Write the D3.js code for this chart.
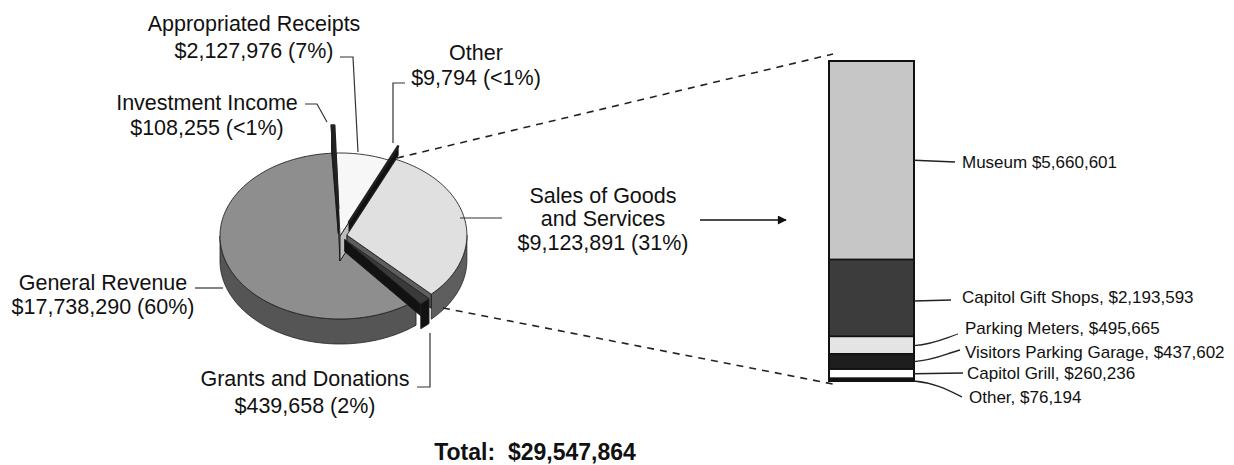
<!DOCTYPE html>
<html>
<head>
<meta charset="utf-8">
<script src="https://cdn.jsdelivr.net/npm/d3@7"></script>
<style>
  html, body { margin: 0; padding: 0; background: #ffffff; }
  svg { display: block; font-family: "Liberation Sans", Arial, sans-serif; }
</style>
</head>
<body>
<svg id="chart" width="1234" height="465"></svg>
<script>
// ---------- DATA ----------
const pieCategories = ["Investment Income", "Appropriated Receipts", "Other", "Sales of Goods and Services", "Grants and Donations", "General Revenue"];
const pieNameLines = [["Investment Income"], ["Appropriated Receipts"], ["Other"], ["Sales of Goods", "and Services"], ["Grants and Donations"], ["General Revenue"]];
const pieValues = [108255, 2127976, 9794, 9123891, 439658, 17738290];
const piePercents = ["<1%", "7%", "<1%", "31%", "2%", "60%"];

const barCategories = ["Museum", "Capitol Gift Shops", "Parking Meters", "Visitors Parking Garage", "Capitol Grill", "Other"];
const barValues = [5660601, 2193593, 495665, 437602, 260236, 76194];

const totalLabel = "Total:";
const totalValue = 29547864;

// ---------- LAYOUT / STYLE ----------
const svg = d3.select("#chart");
const fmt = d3.format("$,");

const cx = 340, cy = 236, R = 120, K = 83 / 120, DEPTH = 25;
const startDeg = -3.2;
const explode = [40, 0, 22, 7, 7, 0];
const faceDepth = [25, 25, 9, 14, 12, 25];
const topFill  = ["#1c1c1c", "#f7f7f7", "#1c1c1c", "#e0e0e0", "#3a3a3a", "#8e8e8e"];
const sideFill = ["#111111", "#bdbdbd", "#111111", "#5e5e5e", "#121212", "#555555"];
const drawOrder = [5, 1, 3, 4, 0, 2];

const pie = d3.pie().sort(null).value(d => d)
  .startAngle(startDeg * Math.PI / 180)
  .endAngle(startDeg * Math.PI / 180 + 2 * Math.PI);
const arcs = pie(pieValues);

const line = d3.line();

function rim(a, ox, oy, dz) {
  return [cx + ox + R * Math.sin(a), cy + oy - R * Math.cos(a) * K + (dz || 0)];
}
function samples(a0, a1) {
  const n = Math.max(2, Math.ceil((a1 - a0) / 0.02));
  return d3.range(n + 1).map(i => a0 + (a1 - a0) * i / n);
}

const gPie = svg.append("g");

drawOrder.forEach(i => {
  const d = arcs[i];
  const a0 = d.startAngle, a1 = d.endAngle, m = (a0 + a1) / 2;
  const e = explode[i];
  const ox = e * Math.sin(m), oy = -e * Math.cos(m) * K;
  const apex = [cx + ox, cy + oy];
  const g = gPie.append("g");

  // outer wall (front half only)
  [-2 * Math.PI, 0, 2 * Math.PI].forEach(s => {
    const lo = Math.max(a0, Math.PI / 2 + s), hi = Math.min(a1, 3 * Math.PI / 2 + s);
    if (hi > lo) {
      const angs = samples(lo, hi);
      const pts = angs.map(a => rim(a, ox, oy, 0))
        .concat(angs.slice().reverse().map(a => rim(a, ox, oy, DEPTH)));
      g.append("path").attr("d", line(pts) + "Z")
        .attr("fill", sideFill[i]).attr("stroke", "#222").attr("stroke-width", 0.8);
    }
  });

  // radial faces
  const faces = [];
  if (Math.sin(a0) < 0) faces.push(a0);
  if (Math.sin(a1) > 0) faces.push(a1);
  faces.forEach(a => {
    const r0 = rim(a, ox, oy, 0);
    const fd = faceDepth[i];
    const pts = [apex, r0, [r0[0], r0[1] + fd], [apex[0], apex[1] + fd]];
    g.append("path").attr("d", line(pts) + "Z")
      .attr("fill", sideFill[i]).attr("stroke", "#1a1a1a").attr("stroke-width", 1);
  });

  // top face
  const topPts = [apex].concat(samples(a0, a1).map(a => rim(a, ox, oy, 0)));
  g.append("path").attr("d", line(topPts) + "Z")
    .attr("fill", topFill[i]).attr("stroke", "#222").attr("stroke-width", (a1 - a0) < 0.05 ? 2.4 : 0.9)
    .attr("stroke-linejoin", "round");
});

// ---------- PIE LABELS ----------
const labelPos = [
  { x: 207, y: [102, 127] },
  { x: 254, y: [23, 50] },
  { x: 476, y: [52, 77] },
  { x: 603, y: [195, 218, 242] },
  { x: 305, y: [378, 405] },
  { x: 103, y: [282, 306] }
];
const leaders = [
  [[305, 104], [317, 104], [327, 122]],
  [[340, 57], [353, 57], [358, 152]],
  [[405, 83], [393, 83], [393, 143]],
  [[460, 218], [502, 218]],
  [[417, 387], [430, 387], [430, 333]],
  [[195, 288], [223, 288]]
];
const gLab = svg.append("g");
pieCategories.forEach((c, i) => {
  const lines = pieNameLines[i].concat([fmt(pieValues[i]) + " (" + piePercents[i] + ")"]);
  lines.forEach((t, j) => {
    gLab.append("text")
      .attr("x", labelPos[i].x).attr("y", labelPos[i].y[j] + 7.5)
      .attr("text-anchor", "middle").attr("font-size", 21.5).attr("fill", "#111")
      .text(t);
  });
  gLab.append("path").attr("d", line(leaders[i])).attr("fill", "none")
    .attr("stroke", "#333").attr("stroke-width", 1.2);
});

// ---------- ARROW ----------
svg.append("defs").append("marker")
  .attr("id", "arrow").attr("viewBox", "0 0 10 10").attr("refX", 9).attr("refY", 5)
  .attr("markerWidth", 13).attr("markerHeight", 9).attr("markerUnits", "userSpaceOnUse")
  .attr("orient", "auto")
  .append("path").attr("d", "M0,0 L10,5 L0,10 Z").attr("fill", "#111");
svg.append("line").attr("x1", 700).attr("y1", 220).attr("x2", 786).attr("y2", 220)
  .attr("stroke", "#111").attr("stroke-width", 1.3).attr("marker-end", "url(#arrow)");

// ---------- STACKED BAR ----------
const barX = 829, barW = 85, barTop = 61, barBottom = 381;
const barFill = ["#c6c6c6", "#3c3c3c", "#e4e4e4", "#1e1e1e", "#ffffff", "#111111"];
const barTotal = d3.sum(barValues);
const y = d3.scaleLinear().domain([0, barTotal]).range([barTop, barBottom]);
const cum = d3.cumsum(barValues);
const segs = barValues.map((v, i) => ({ v, i, y0: i ? cum[i - 1] : 0, y1: cum[i] }));

const gBar = svg.append("g");
gBar.selectAll("rect.seg").data(segs).join("rect").attr("class", "seg")
  .attr("x", barX).attr("width", barW)
  .attr("y", d => y(d.y0)).attr("height", d => y(d.y1) - y(d.y0))
  .attr("fill", d => barFill[d.i]).attr("stroke", "#111").attr("stroke-width", 1.5);
gBar.append("rect").attr("x", barX).attr("y", barTop).attr("width", barW)
  .attr("height", barBottom - barTop).attr("fill", "none")
  .attr("stroke", "#111").attr("stroke-width", 2);

// bar labels
const barLabY = [162, 297, 328, 352, 373, 397];
const barLabX = [962, 962, 965, 965, 967, 969];
const barLeaders = [
  d => `M${barX + barW},${(y(d.y0) + y(d.y1)) / 2} L955,${barLabY[0]}`,
  d => `M${barX + barW},${(y(d.y0) + y(d.y1)) / 2 + 3} L951,${barLabY[1] + 3}`,
  d => `M${barX + barW},${(y(d.y0) + y(d.y1)) / 2 + 0.5} C935,344 945,338 958,334`,
  d => `M${barX + barW},${(y(d.y0) + y(d.y1)) / 2} C935,360 945,354 960,350`,
  d => `M${barX + barW},${(y(d.y0) + y(d.y1)) / 2} L963,${barLabY[4]}`,
  d => `M${barX + barW},${y(d.y1)} C935,383 948,390 962,397`
];
segs.forEach(d => {
  gBar.append("path").attr("d", barLeaders[d.i](d)).attr("fill", "none")
    .attr("stroke", "#222").attr("stroke-width", 1.3);
  gBar.append("text").attr("x", barLabX[d.i]).attr("y", barLabY[d.i] + 6)
    .attr("font-size", 17).attr("fill", "#111")
    .text(barCategories[d.i] + (d.i === 0 ? " " : ", ") + fmt(d.v));
});

// ---------- DASHED CONNECTORS ----------
svg.append("line").attr("x1", 397).attr("y1", 158).attr("x2", 833).attr("y2", 54)
  .attr("stroke", "#222").attr("stroke-width", 1.6).attr("stroke-dasharray", "7,6");
svg.append("line").attr("x1", 443).attr("y1", 308).attr("x2", 833).attr("y2", 384)
  .attr("stroke", "#222").attr("stroke-width", 1.6).attr("stroke-dasharray", "7,6");

// ---------- TOTAL ----------
svg.append("text").attr("x", 535).attr("y", 460)
  .attr("text-anchor", "middle").attr("font-size", 23).attr("font-weight", "bold")
  .attr("fill", "#111").style("white-space", "pre")
  .text(totalLabel + "  " + fmt(totalValue));
</script>
</body>
</html>
